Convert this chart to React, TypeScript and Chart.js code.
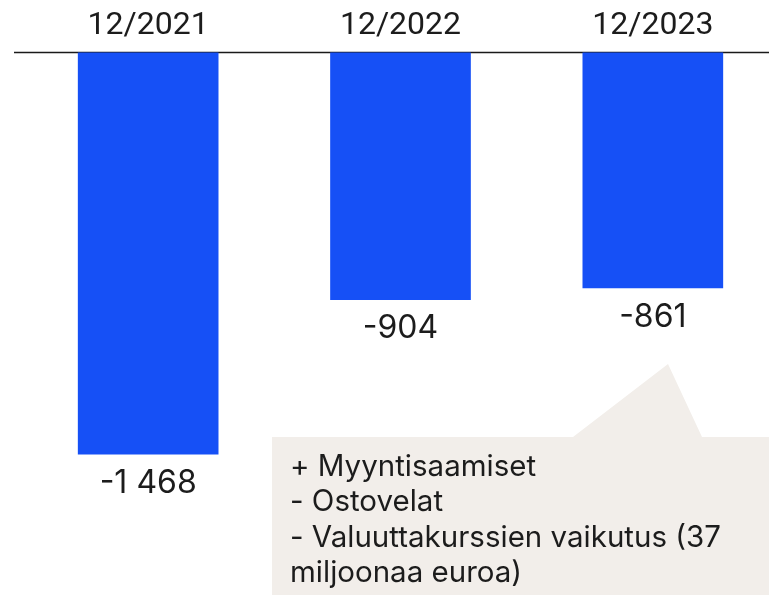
import React, { useEffect, useRef } from "react";
import { Chart, registerables } from "chart.js";

Chart.register(...registerables);

const categories = ["12/2021", "12/2022", "12/2023"];
const values = [-1468, -904, -861];
const calloutLines = [
  "+ Myyntisaamiset",
  "- Ostovelat",
  "- Valuuttakurssien vaikutus (37",
  "miljoonaa euroa)",
];

const BAR_COLOR = "#1650F6";
const TEXT_COLOR = "#1c1c1c";
const BOX_COLOR = "#F2EEEA";

function fmt(n: number): string {
  const s = Math.abs(n).toString().replace(/\B(?=(\d{3})+(?!\d))/g, " ");
  return (n < 0 ? "-" : "") + s;
}

const overlayPlugin = {
  id: "overlay",
  beforeDatasetsDraw(chart: any) {
    const ctx = chart.ctx;
    const top = chart.chartArea.top;
    ctx.save();
    ctx.strokeStyle = "#1a1a1a";
    ctx.lineWidth = 1.5;
    ctx.beginPath();
    ctx.moveTo(14, top);
    ctx.lineTo(chart.width, top);
    ctx.stroke();
    ctx.restore();
  },
  afterDatasetsDraw(chart: any) {
    const ctx = chart.ctx;
    const meta = chart.getDatasetMeta(0);
    ctx.save();
    ctx.fillStyle = TEXT_COLOR;
    ctx.font = "32px Inter";
    ctx.textAlign = "center";
    ctx.textBaseline = "middle";
    meta.data.forEach((bar: any, i: number) => {
      ctx.fillText(fmt(values[i]), bar.x, bar.y + 29);
    });
    ctx.restore();
  },
  afterDraw(chart: any) {
    const ctx = chart.ctx;
    ctx.save();
    ctx.fillStyle = BOX_COLOR;
    ctx.beginPath();
    ctx.moveTo(272, 437);
    ctx.lineTo(573, 437);
    ctx.lineTo(668, 364);
    ctx.lineTo(702, 437);
    ctx.lineTo(chart.width, 437);
    ctx.lineTo(chart.width, 595);
    ctx.lineTo(272, 595);
    ctx.closePath();
    ctx.fill();
    ctx.fillStyle = TEXT_COLOR;
    ctx.font = "29.5px Inter";
    ctx.textAlign = "left";
    ctx.textBaseline = "middle";
    calloutLines.forEach((line, i) => {
      ctx.fillText(line, 290, 467 + i * 35.5);
    });
    ctx.restore();
  },
};

export default function App() {
  const ref = useRef<HTMLCanvasElement | null>(null);
  useEffect(() => {
    if (!ref.current) return;
    const chart = new Chart(ref.current, {
      type: "bar",
      data: {
        labels: categories,
        datasets: [
          {
            data: values,
            backgroundColor: BAR_COLOR,
            borderWidth: 0,
            barThickness: 140,
          },
        ],
      },
      options: {
        responsive: false,
        animation: false,
        devicePixelRatio: 1,
        layout: { padding: { left: 22, right: 0, top: 0, bottom: 9 } },
        plugins: { legend: { display: false }, tooltip: { enabled: false } },
        scales: {
          x: {
            position: "top",
            grid: { display: false, drawTicks: false },
            border: { display: false },
            ticks: {
              color: TEXT_COLOR,
              font: { family: "Roboto", size: 32 },
              padding: 7,
            },
          },
          y: {
            display: false,
            min: -1950,
            max: 0,
          },
        },
      },
      plugins: [overlayPlugin],
    });
    return () => chart.destroy();
  }, []);
  return (
    <div
      style={{
        position: "absolute",
        left: 0,
        top: 0,
        width: 769,
        height: 595,
        overflow: "hidden",
        background: "#fff",
      }}
    >
      <canvas ref={ref} width={779} height={595} style={{ display: "block" }} />
    </div>
  );
}
